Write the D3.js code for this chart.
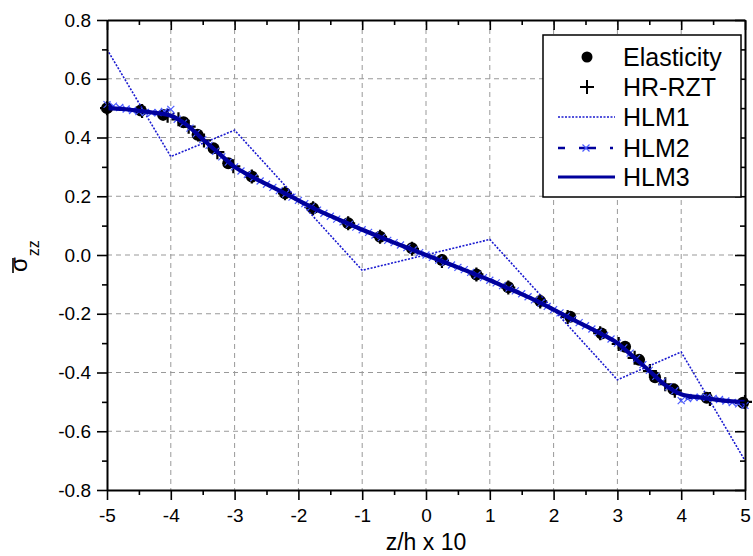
<!DOCTYPE html>
<html><head><meta charset="utf-8">
<script src="https://cdn.jsdelivr.net/npm/d3@7"></script>
<style>body{margin:0;background:#fff}text{font-family:"Liberation Sans",Arial,sans-serif}</style>
</head><body><svg id="c" width="753" height="556"></svg>
<script>
// ---- data ----
const xTicks = [-5,-4,-3,-2,-1,0,1,2,3,4,5];
const yTicks = [-0.8,-0.6,-0.4,-0.2,0,0.2,0.4,0.6,0.8];
const seriesNames = ["Elasticity","HR-RZT","HLM1","HLM2","HLM3"];

const elastZ = [-5,-4.47,-4.12,-3.80,-3.58,-3.33,-3.10,-2.73,-2.21,-1.77,-1.22,-0.72,-0.22,0.25,0.79,1.29,1.79,2.26,2.75,3.12,3.34,3.59,3.88,4.40,4.97];
const elastV = [0.500,0.492,0.477,0.452,0.409,0.363,0.312,0.267,0.210,0.159,0.108,0.062,0.023,-0.017,-0.066,-0.110,-0.157,-0.210,-0.267,-0.312,-0.357,-0.416,-0.457,-0.486,-0.503];

const rztZ = [-5,-4.45,-4.05,-3.88,-3.72,-3.48,-3.27,-3.02,-2.73,-2.21,-1.77,-1.22,-0.72,-0.22,0.25,0.79,1.29,1.79,2.22,2.73,3.02,3.27,3.51,3.75,3.90,4.45,5];
const rztV = [0.500,0.490,0.474,0.462,0.437,0.390,0.350,0.302,0.267,0.210,0.159,0.108,0.062,0.021,-0.020,-0.066,-0.111,-0.158,-0.211,-0.266,-0.303,-0.350,-0.395,-0.440,-0.462,-0.490,-0.500];

const hlm1Z = [-5,-4,-3,-1,1,3,4,5];
const hlm1V = [0.700,0.335,0.425,-0.052,0.053,-0.425,-0.330,-0.700];

const hlm2Z = [-5.0,-4.9,-4.8,-4.7,-4.6,-4.5,-4.4,-4.3,-4.2,-4.1,-4.0,-3.9,-3.8,-3.7,-3.6,-3.5,-3.4,-3.3,-3.2,-3.1,-3.0,-2.9,-2.8,-2.7,-2.6,-2.5,-2.4,-2.3,-2.2,-2.1,-2.0,-1.9,-1.8,-1.7,-1.6,-1.5,-1.4,-1.3,-1.2,-1.1,-1.0,-0.9,-0.8,-0.7,-0.6,-0.5,-0.4,-0.3,-0.2,-0.1,0.0,0.1,0.2,0.3,0.4,0.5,0.6,0.7,0.8,0.9,1.0,1.1,1.2,1.3,1.4,1.5,1.6,1.7,1.8,1.9,2.0,2.1,2.2,2.3,2.4,2.5,2.6,2.7,2.8,2.9,3.0,3.1,3.2,3.3,3.4,3.5,3.6,3.7,3.8,3.9,4.0,4.1,4.2,4.3,4.4,4.5,4.6,4.7,4.8,4.9,5.0];
const hlm2V = [0.512,0.507,0.502,0.497,0.492,0.488,0.485,0.484,0.485,0.489,0.496,0.462,0.449,0.432,0.413,0.393,0.373,0.353,0.334,0.316,0.300,0.286,0.274,0.263,0.252,0.241,0.230,0.219,0.208,0.197,0.186,0.175,0.164,0.153,0.142,0.132,0.122,0.113,0.104,0.095,0.086,0.077,0.068,0.059,0.050,0.042,0.034,0.025,0.017,0.008,0.000,-0.008,-0.017,-0.025,-0.034,-0.042,-0.050,-0.059,-0.068,-0.077,-0.086,-0.095,-0.104,-0.113,-0.122,-0.132,-0.142,-0.153,-0.164,-0.175,-0.186,-0.197,-0.208,-0.219,-0.230,-0.241,-0.252,-0.263,-0.274,-0.286,-0.300,-0.316,-0.334,-0.353,-0.373,-0.393,-0.413,-0.432,-0.449,-0.462,-0.496,-0.489,-0.485,-0.484,-0.485,-0.488,-0.492,-0.497,-0.502,-0.507,-0.512];

const hlm3Z = [-5,-4.75,-4.5,-4.25,-4,-3.75,-3.5,-3.25,-3,-2.75,-2.5,-2.25,-2,-1.75,-1.5,-1.25,-1,-0.75,-0.5,-0.25,0,0.25,0.5,0.75,1,1.25,1.5,1.75,2,2.25,2.5,2.75,3,3.25,3.5,3.75,4,4.25,4.5,4.75,5];
const hlm3V = [0.500,0.497,0.491,0.484,0.474,0.443,0.394,0.347,0.300,0.269,0.241,0.214,0.186,0.158,0.133,0.110,0.086,0.064,0.042,0.021,0.000,-0.021,-0.042,-0.064,-0.086,-0.110,-0.133,-0.158,-0.186,-0.214,-0.241,-0.269,-0.300,-0.347,-0.394,-0.443,-0.474,-0.484,-0.491,-0.497,-0.500];

// ---- drawing ----
const W = 753, H = 556;
const m = {l:107, r:8, t:20, b:66};
const svg = d3.select("#c");
const x = d3.scaleLinear().domain([-5,5]).range([m.l, W-m.r]);
const y = d3.scaleLinear().domain([-0.8,0.8]).range([H-m.b, m.t]);
const zip = (a,b)=>a.map((v,i)=>[v,b[i]]);

const C_DARK = "#00009c", C_MID = "#1a1ad0", C_LIGHT = "#4a5aff";

// grid
const grid = svg.append("g");
grid.selectAll(".gx").data(xTicks.slice(1,-1)).enter().append("line")
  .attr("x1",d=>x(d)).attr("x2",d=>x(d)).attr("y1",y(0.8)).attr("y2",y(-0.8))
  .attr("stroke","#999").attr("stroke-width",1).attr("stroke-dasharray","5,4");
grid.selectAll(".gy").data(yTicks.slice(1,-1)).enter().append("line")
  .attr("y1",d=>y(d)).attr("y2",d=>y(d)).attr("x1",x(-5)).attr("x2",x(5))
  .attr("stroke","#999").attr("stroke-width",1).attr("stroke-dasharray","5,4");

const plot = svg.append("g");
const line = d3.line().x(d=>x(d[0])).y(d=>y(d[1]));
const curve = d3.line().x(d=>x(d[0])).y(d=>y(d[1])).curve(d3.curveMonotoneX);

// Elasticity dots
plot.selectAll(".el").data(zip(elastZ,elastV)).enter().append("circle")
  .attr("cx",d=>x(d[0])).attr("cy",d=>y(d[1])).attr("r",6).attr("fill","#000");
// HR-RZT plus
const plusPath = (s)=>`M${-s},0H${s}M0,${-s}V${s}`;
plot.selectAll(".rz").data(zip(rztZ,rztV)).enter().append("path")
  .attr("transform",d=>`translate(${x(d[0])},${y(d[1])})`)
  .attr("d",plusPath(7)).attr("stroke","#000").attr("stroke-width",2.2).attr("fill","none");
// HLM1
plot.append("path").datum(zip(hlm1Z,hlm1V)).attr("d",line)
  .attr("fill","none").attr("stroke",C_MID).attr("stroke-width",1.6).attr("stroke-dasharray","2,1.5");
// HLM2
plot.append("path").datum(zip(hlm2Z,hlm2V)).attr("d",line)
  .attr("fill","none").attr("stroke",C_DARK).attr("stroke-width",2).attr("stroke-dasharray","7,5,2,5");
const xPath = (s)=>`M${-s},${-s}L${s},${s}M${-s},${s}L${s},${-s}`;
plot.selectAll(".h2").data(zip(hlm2Z,hlm2V)).enter().append("path")
  .attr("transform",d=>`translate(${x(d[0])},${y(d[1])})`)
  .attr("d",xPath(3.5)).attr("stroke",C_LIGHT).attr("stroke-width",1.2).attr("fill","none");
// HLM3
plot.append("path").datum(zip(hlm3Z,hlm3V)).attr("d",curve)
  .attr("fill","none").attr("stroke",C_DARK).attr("stroke-width",4.2);

// axes
const fx = d=>String(d);
const fy = d=>d.toFixed(1);
const minorX = d3.range(-4.5,5,1);
const minorY = d3.range(-0.7,0.8,0.2).map(v=>+v.toFixed(1));
function styleAxis(g){ g.selectAll("path").attr("stroke","#000").attr("stroke-width",2);
  g.selectAll("line").attr("stroke","#000").attr("stroke-width",1.6);
  g.selectAll("text").attr("font-family","Liberation Sans, Arial, sans-serif").attr("font-size",19).attr("fill","#000"); }

const xb = svg.append("g").attr("transform",`translate(0,${y(-0.8)})`)
  .call(d3.axisBottom(x).tickValues(xTicks).tickFormat(fx).tickSizeInner(10).tickSizeOuter(0).tickPadding(9));
styleAxis(xb);
const xbm = svg.append("g").attr("transform",`translate(0,${y(-0.8)})`)
  .call(d3.axisBottom(x).tickValues(minorX).tickFormat("").tickSizeInner(5).tickSizeOuter(0));
styleAxis(xbm); xbm.select("path").remove();

const yl = svg.append("g").attr("transform",`translate(${x(-5)},0)`)
  .call(d3.axisLeft(y).tickValues(yTicks).tickFormat(fy).tickSizeInner(10).tickSizeOuter(0).tickPadding(6));
styleAxis(yl);
const ylm = svg.append("g").attr("transform",`translate(${x(-5)},0)`)
  .call(d3.axisLeft(y).tickValues(minorY).tickFormat("").tickSizeInner(5).tickSizeOuter(0));
styleAxis(ylm); ylm.select("path").remove();

const xt = svg.append("g").attr("transform",`translate(0,${y(0.8)})`)
  .call(d3.axisTop(x).tickValues(xTicks).tickFormat("").tickSizeInner(-10).tickSizeOuter(0));
styleAxis(xt);
const xtm = svg.append("g").attr("transform",`translate(0,${y(0.8)})`)
  .call(d3.axisTop(x).tickValues(minorX).tickFormat("").tickSizeInner(-5).tickSizeOuter(0));
styleAxis(xtm); xtm.select("path").remove();

const yr = svg.append("g").attr("transform",`translate(${x(5)},0)`)
  .call(d3.axisRight(y).tickValues(yTicks).tickFormat("").tickSizeInner(-10).tickSizeOuter(0));
styleAxis(yr);
const yrm = svg.append("g").attr("transform",`translate(${x(5)},0)`)
  .call(d3.axisRight(y).tickValues(minorY).tickFormat("").tickSizeInner(-5).tickSizeOuter(0));
styleAxis(yrm); yrm.select("path").remove();

// axis titles
svg.append("text").attr("x",(x(-5)+x(5))/2).attr("y",550).attr("text-anchor","middle")
  .attr("font-size",23).text("z/h x 10");
const yt = svg.append("g").attr("transform","translate(27,272) rotate(-90)");
const ytx = yt.append("text").attr("font-size",24);
ytx.append("tspan").text("σ");
ytx.append("tspan").attr("font-size",16).attr("dx",1).attr("dy",12).text("zz");
yt.append("line").attr("x1",-1).attr("x2",14).attr("y1",-14).attr("y2",-14).attr("stroke","#000").attr("stroke-width",1.6);

// legend
const lg = svg.append("g");
lg.append("rect").attr("x",543).attr("y",35).attr("width",198).attr("height",162)
  .attr("fill","#fff").attr("stroke","#000").attr("stroke-width",1.5);
const rows = [57,87,117,148,177];
const tx = 623;
seriesNames.forEach((n,i)=>{
  lg.append("text").attr("x",tx).attr("y",rows[i]+8.5).attr("font-size",25).text(n);
});
lg.append("circle").attr("cx",587).attr("cy",rows[0]).attr("r",5.5).attr("fill","#000");
lg.append("path").attr("transform",`translate(587,${rows[1]})`).attr("d",plusPath(7)).attr("stroke","#000").attr("stroke-width",2).attr("fill","none");
lg.append("line").attr("x1",558).attr("x2",615).attr("y1",rows[2]).attr("y2",rows[2])
  .attr("stroke",C_MID).attr("stroke-width",1.6).attr("stroke-dasharray","2,1.5");
lg.append("line").attr("x1",558).attr("x2",615).attr("y1",rows[3]).attr("y2",rows[3])
  .attr("stroke",C_DARK).attr("stroke-width",2.5).attr("stroke-dasharray","7,14,17,14,3");
lg.append("path").attr("transform",`translate(586,${rows[3]})`).attr("d",xPath(3.5)).attr("stroke",C_LIGHT).attr("stroke-width",1.2).attr("fill","none");
lg.append("line").attr("x1",558).attr("x2",615).attr("y1",rows[4]).attr("y2",rows[4])
  .attr("stroke",C_DARK).attr("stroke-width",3);
</script></body></html>
